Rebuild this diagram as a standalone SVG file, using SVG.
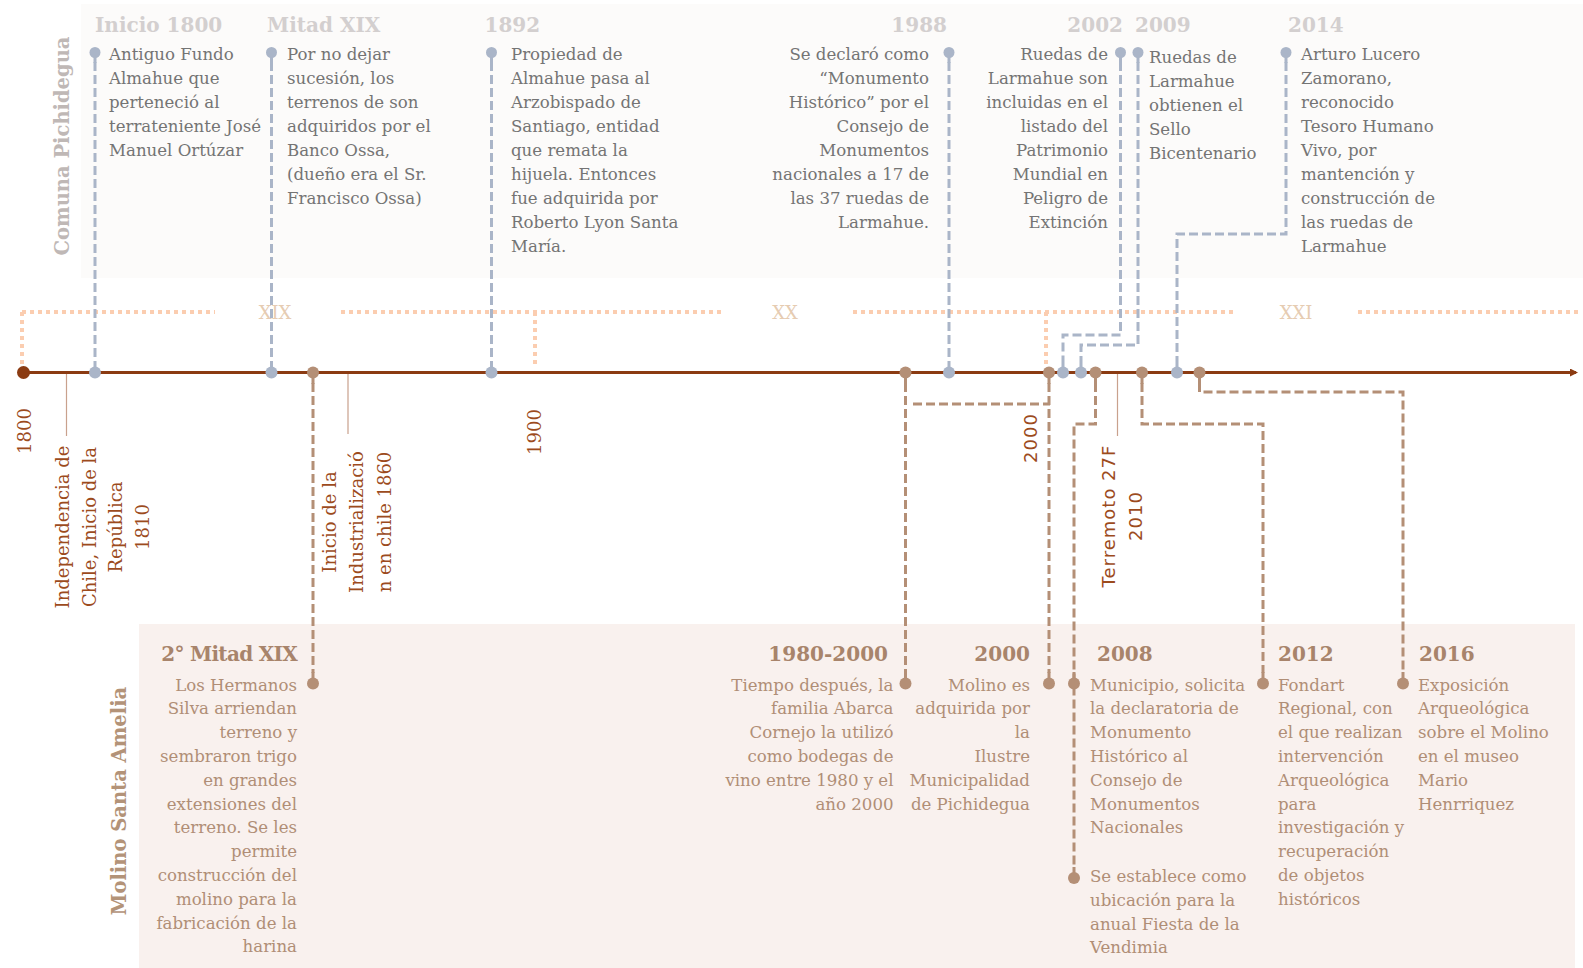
<svg xmlns="http://www.w3.org/2000/svg" width="1583" height="968" viewBox="0 0 1583 968">
<defs>
<style>
.body{font-family:"DejaVu Serif","Liberation Serif",serif;font-size:16.6px}
.top{fill:#747474}
.bot{fill:#b08e76}
.toph{font-family:"DejaVu Serif","Liberation Serif",serif;font-size:20px;font-weight:bold;fill:#d3cfcf}
.both{font-family:"DejaVu Serif","Liberation Serif",serif;font-size:20px;font-weight:bold;fill:#a8846b}
.blue{fill:none;stroke:#aab5c8;stroke-width:3;stroke-dasharray:9 4}
.brown{fill:none;stroke:#b48f76;stroke-width:3;stroke-dasharray:9 4}
.bdot{fill:#aab5c8}
.rdot{fill:#b48f76}
.bstem{stroke:#aab5c8;stroke-width:3}
.rstem{stroke:#b48f76;stroke-width:3}
.cent{fill:none;stroke:#fbcdb0;stroke-width:4;stroke-dasharray:4 4}
.centl{font-family:"DejaVu Serif","Liberation Serif",serif;font-size:18px;fill:#e6ccb2;text-anchor:middle}
.thin{stroke:#c9a18d;stroke-width:1.2}
.lab{font-family:"DejaVu Serif","Liberation Serif",serif;font-size:18px;fill:#9c4b1d;text-anchor:middle}
.labs{font-family:"DejaVu Sans","Liberation Sans",sans-serif;font-size:18px;fill:#9c4b1d;text-anchor:middle;letter-spacing:1px}
.side{font-family:"DejaVu Serif","Liberation Serif",serif;font-size:19.5px;font-weight:bold;text-anchor:middle}
</style>
<marker id="arr" markerWidth="8" markerHeight="8" refX="6" refY="4" orient="auto" markerUnits="userSpaceOnUse">
<path d="M0,0 L8,4 L0,8 Z" fill="#8b3b12"/>
</marker>
</defs>

<g id="panels">
<rect x="81" y="4" width="1502" height="274" fill="#fcfbfa"/>
<rect x="139" y="624" width="1436" height="344" fill="#f9f1ee"/>
</g>

<g id="side-labels">
<text class="side" fill="#bfb8b6" transform="translate(69,146) rotate(-90)">Comuna Pichidegua</text>
<text class="side" fill="#b39378" transform="translate(126,801) rotate(-90)">Molino Santa Amelia</text>
</g>

<g id="centuries">
<path class="cent" d="M22,312 H215 M341,312 H725 M853,312 H1237 M1358,312 H1582"/>
<path class="cent" d="M22,312 V366 M535,312 V366 M1046,312 V366"/>
<text class="centl" x="275" y="319">XIX</text>
<text class="centl" x="785" y="319">XX</text>
<text class="centl" x="1296" y="319">XXI</text>
</g>

<g id="connectors">
<path class="blue" d="M95,62 V362 M271.5,62 V362 M491.5,62 V362 M949,62 V362"/>
<path class="blue" d="M1120.5,62 V335 H1063 V362"/>
<path class="blue" d="M1138,62 V345 H1081 V362"/>
<path class="blue" d="M1286,62 V234 H1177 V362"/>
<path class="brown" d="M313,383 V673 M905.5,383 V673 M1049,383 V673"/>
<path class="brown" d="M913,404 H1050"/>
<path class="brown" d="M1095.5,383 V424 H1074 V868"/>
<path class="brown" d="M1142,383 V424 H1263 V673"/>
<path class="brown" d="M1199.5,383 V392 H1403 V673"/>
<path class="thin" d="M66.5,373 V436 M348,373 V434 M1117.5,373 V436"/>
</g>

<g id="axis">
<line x1="23" y1="372.5" x2="1576" y2="372.5" stroke="#8b3b12" stroke-width="3.2" marker-end="url(#arr)"/>
<circle cx="23.5" cy="372.5" r="6.5" fill="#8b3b12"/>
</g>

<g id="pins">
<g class="bstem">
<path d="M95,52 V63 M271.5,52 V63 M491.5,52 V63 M949,52 V63 M1120.5,52 V63 M1138,52 V63 M1286,52 V63"/>
<path d="M95,362 V372 M271.5,362 V372 M491.5,362 V372 M949,362 V372 M1063,362 V372 M1081,362 V372 M1177,362 V372"/>
</g>
<g class="rstem">
<path d="M313,372 V384 M905.5,372 V384 M1049,372 V384 M1095.5,372 V384 M1142,372 V384 M1199.5,372 V384"/>
<path d="M313,672 V684 M905.5,672 V684 M1049,672 V684 M1074,672 V684 M1074,867 V878 M1263,672 V684 M1403,672 V684"/>
</g>
<g class="bdot">
<circle cx="95" cy="52.5" r="5.5"/><circle cx="271.5" cy="52.5" r="5.5"/><circle cx="491.5" cy="52.5" r="5.5"/><circle cx="949" cy="52.5" r="5.5"/><circle cx="1120.5" cy="52.5" r="5.5"/><circle cx="1138" cy="52.5" r="5.5"/><circle cx="1286" cy="52.5" r="5.5"/>
<circle cx="95" cy="372.5" r="6"/><circle cx="271.5" cy="372.5" r="6"/><circle cx="491.5" cy="372.5" r="6"/><circle cx="949" cy="372.5" r="6"/><circle cx="1063" cy="372.5" r="6"/><circle cx="1081" cy="372.5" r="6"/><circle cx="1177" cy="372.5" r="6"/>
</g>
<g class="rdot">
<circle cx="313" cy="372.5" r="6"/><circle cx="905.5" cy="372.5" r="6"/><circle cx="1049" cy="372.5" r="6"/><circle cx="1095.5" cy="372.5" r="6"/><circle cx="1142" cy="372.5" r="6"/><circle cx="1199.5" cy="372.5" r="6"/>
<circle cx="313" cy="683.5" r="6"/><circle cx="905.5" cy="683.5" r="6"/><circle cx="1049" cy="683.5" r="6"/><circle cx="1074" cy="683.5" r="6"/><circle cx="1074" cy="878" r="6"/><circle cx="1263" cy="683.5" r="6"/><circle cx="1403" cy="683.5" r="6"/>
</g>
</g>

<g id="axis-labels">
<text class="lab" transform="translate(31,431) rotate(-90)">1800</text>
<text class="lab" transform="translate(541,432) rotate(-90)">1900</text>
<text class="labs" transform="translate(1036.5,438) rotate(-90)">2000</text>
<text class="lab" transform="translate(69,527) rotate(-90)"><tspan x="0" dy="0">Independencia de</tspan><tspan x="0" dy="26.7">Chile, Inicio de la</tspan><tspan x="0" dy="26.7">República</tspan><tspan x="0" dy="26.7">1810</tspan></text>
<text class="lab" transform="translate(336,522) rotate(-90)"><tspan x="0" dy="0">Inicio de la</tspan><tspan x="0" dy="27.3">Industrializació</tspan><tspan x="0" dy="27.3">n en chile 1860</tspan></text>
<text class="labs" transform="translate(1115,516) rotate(-90)"><tspan x="0" dy="0">Terremoto 27F</tspan><tspan x="0" dy="26.5">2010</tspan></text>
</g>

<g id="ev-inicio1800">
<text class="toph" x="95" y="32">Inicio 1800</text>
<text class="body top" x="109" y="60"><tspan x="109" dy="0">Antiguo Fundo</tspan><tspan x="109" dy="24">Almahue que</tspan><tspan x="109" dy="24">perteneció al</tspan><tspan x="109" dy="24">terrateniente José</tspan><tspan x="109" dy="24">Manuel Ortúzar</tspan></text>
</g>
<g id="ev-mitadxix">
<text class="toph" x="267" y="32">Mitad XIX</text>
<text class="body top" x="287" y="60"><tspan x="287" dy="0">Por no dejar</tspan><tspan x="287" dy="24">sucesión, los</tspan><tspan x="287" dy="24">terrenos de son</tspan><tspan x="287" dy="24">adquiridos por el</tspan><tspan x="287" dy="24">Banco Ossa,</tspan><tspan x="287" dy="24">(dueño era el Sr.</tspan><tspan x="287" dy="24">Francisco Ossa)</tspan></text>
</g>
<g id="ev-1892">
<text class="toph" x="484.5" y="32">1892</text>
<text class="body top" x="511" y="60"><tspan x="511" dy="0">Propiedad de</tspan><tspan x="511" dy="24">Almahue pasa al</tspan><tspan x="511" dy="24">Arzobispado de</tspan><tspan x="511" dy="24">Santiago, entidad</tspan><tspan x="511" dy="24">que remata la</tspan><tspan x="511" dy="24">hijuela. Entonces</tspan><tspan x="511" dy="24">fue adquirida por</tspan><tspan x="511" dy="24">Roberto Lyon Santa</tspan><tspan x="511" dy="24">María.</tspan></text>
</g>
<g id="ev-1988">
<text class="toph" x="947" y="32" text-anchor="end">1988</text>
<text class="body top" text-anchor="end" x="929" y="60"><tspan x="929" dy="0">Se declaró como</tspan><tspan x="929" dy="24">“Monumento</tspan><tspan x="929" dy="24">Histórico” por el</tspan><tspan x="929" dy="24">Consejo de</tspan><tspan x="929" dy="24">Monumentos</tspan><tspan x="929" dy="24">nacionales a 17 de</tspan><tspan x="929" dy="24">las 37 ruedas de</tspan><tspan x="929" dy="24">Larmahue.</tspan></text>
</g>
<g id="ev-2002">
<text class="toph" x="1123" y="32" text-anchor="end">2002</text>
<text class="body top" text-anchor="end" x="1108" y="60"><tspan x="1108" dy="0">Ruedas de</tspan><tspan x="1108" dy="24">Larmahue son</tspan><tspan x="1108" dy="24">incluidas en el</tspan><tspan x="1108" dy="24">listado del</tspan><tspan x="1108" dy="24">Patrimonio</tspan><tspan x="1108" dy="24">Mundial en</tspan><tspan x="1108" dy="24">Peligro de</tspan><tspan x="1108" dy="24">Extinción</tspan></text>
</g>
<g id="ev-2009">
<text class="toph" x="1135" y="32">2009</text>
<text class="body top" x="1149" y="63"><tspan x="1149" dy="0">Ruedas de</tspan><tspan x="1149" dy="24">Larmahue</tspan><tspan x="1149" dy="24">obtienen el</tspan><tspan x="1149" dy="24">Sello</tspan><tspan x="1149" dy="24">Bicentenario</tspan></text>
</g>
<g id="ev-2014">
<text class="toph" x="1288" y="32">2014</text>
<text class="body top" x="1301" y="60"><tspan x="1301" dy="0">Arturo Lucero</tspan><tspan x="1301" dy="24">Zamorano,</tspan><tspan x="1301" dy="24">reconocido</tspan><tspan x="1301" dy="24">Tesoro Humano</tspan><tspan x="1301" dy="24">Vivo, por</tspan><tspan x="1301" dy="24">mantención y</tspan><tspan x="1301" dy="24">construcción de</tspan><tspan x="1301" dy="24">las ruedas de</tspan><tspan x="1301" dy="24">Larmahue</tspan></text>
</g>

<g id="ev-2mitadxix">
<text class="both" x="297" y="661" text-anchor="end" letter-spacing="-0.7">2° Mitad XIX</text>
<text class="body bot" text-anchor="end" x="297" y="690.5"><tspan x="297" dy="0">Los Hermanos</tspan><tspan x="297" dy="23.8">Silva arriendan</tspan><tspan x="297" dy="23.8">terreno y</tspan><tspan x="297" dy="23.8">sembraron trigo</tspan><tspan x="297" dy="23.8">en grandes</tspan><tspan x="297" dy="23.8">extensiones del</tspan><tspan x="297" dy="23.8">terreno. Se les</tspan><tspan x="297" dy="23.8">permite</tspan><tspan x="297" dy="23.8">construcción del</tspan><tspan x="297" dy="23.8">molino para la</tspan><tspan x="297" dy="23.8">fabricación de la</tspan><tspan x="297" dy="23.8">harina</tspan></text>
</g>
<g id="ev-1980-2000">
<text class="both" x="888" y="661" text-anchor="end">1980-2000</text>
<text class="body bot" text-anchor="end" x="893.5" y="690.5"><tspan x="893.5" dy="0">Tiempo después, la</tspan><tspan x="893.5" dy="23.8">familia Abarca</tspan><tspan x="893.5" dy="23.8">Cornejo la utilizó</tspan><tspan x="893.5" dy="23.8">como bodegas de</tspan><tspan x="893.5" dy="23.8">vino entre 1980 y el</tspan><tspan x="893.5" dy="23.8">año 2000</tspan></text>
</g>
<g id="ev-2000">
<text class="both" x="1030" y="661" text-anchor="end">2000</text>
<text class="body bot" text-anchor="end" x="1030" y="690.5"><tspan x="1030" dy="0">Molino es</tspan><tspan x="1030" dy="23.8">adquirida por</tspan><tspan x="1030" dy="23.8">la</tspan><tspan x="1030" dy="23.8">Ilustre</tspan><tspan x="1030" dy="23.8">Municipalidad</tspan><tspan x="1030" dy="23.8">de Pichidegua</tspan></text>
</g>
<g id="ev-2008">
<text class="both" x="1097" y="661">2008</text>
<text class="body bot" x="1090" y="690.5"><tspan x="1090" dy="0">Municipio, solicita</tspan><tspan x="1090" dy="23.8">la declaratoria de</tspan><tspan x="1090" dy="23.8">Monumento</tspan><tspan x="1090" dy="23.8">Histórico al</tspan><tspan x="1090" dy="23.8">Consejo de</tspan><tspan x="1090" dy="23.8">Monumentos</tspan><tspan x="1090" dy="23.8">Nacionales</tspan></text>
<text class="body bot" x="1090" y="882"><tspan x="1090" dy="0">Se establece como</tspan><tspan x="1090" dy="23.8">ubicación para la</tspan><tspan x="1090" dy="23.8">anual Fiesta de la</tspan><tspan x="1090" dy="23.8">Vendimia</tspan></text>
</g>
<g id="ev-2012">
<text class="both" x="1278" y="661">2012</text>
<text class="body bot" x="1278" y="690.5"><tspan x="1278" dy="0">Fondart</tspan><tspan x="1278" dy="23.8">Regional, con</tspan><tspan x="1278" dy="23.8">el que realizan</tspan><tspan x="1278" dy="23.8">intervención</tspan><tspan x="1278" dy="23.8">Arqueológica</tspan><tspan x="1278" dy="23.8">para</tspan><tspan x="1278" dy="23.8">investigación y</tspan><tspan x="1278" dy="23.8">recuperación</tspan><tspan x="1278" dy="23.8">de objetos</tspan><tspan x="1278" dy="23.8">históricos</tspan></text>
</g>
<g id="ev-2016">
<text class="both" x="1419" y="661">2016</text>
<text class="body bot" x="1418" y="690.5"><tspan x="1418" dy="0">Exposición</tspan><tspan x="1418" dy="23.8">Arqueológica</tspan><tspan x="1418" dy="23.8">sobre el Molino</tspan><tspan x="1418" dy="23.8">en el museo</tspan><tspan x="1418" dy="23.8">Mario</tspan><tspan x="1418" dy="23.8">Henrriquez</tspan></text>
</g>
</svg>
